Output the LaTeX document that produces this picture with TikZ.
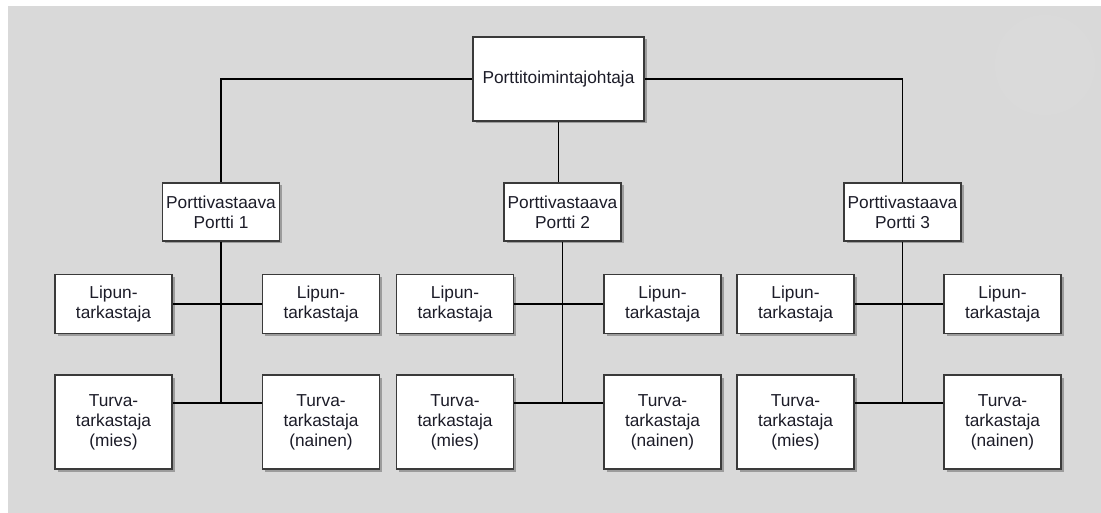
\documentclass[tikz,border=0pt]{standalone}
\usepackage{fontspec}
\setmainfont{Liberation Sans}
\usetikzlibrary{shadows,calc}
\definecolor{panel}{HTML}{D9D9D9}
\definecolor{boxline}{HTML}{3A3A3A}
\definecolor{txt}{HTML}{1C1C28}
\tikzset{
  orgbox/.style={draw=boxline, line width=1.5pt, fill=white, align=center,
    inner sep=0pt, text=txt, font=\fontsize{17.3}{20}\selectfont,
    drop shadow={shadow xshift=2.5pt, shadow yshift=-2.5pt, fill=black, opacity=0.28}},
  topbox/.style={orgbox, minimum width=171pt, minimum height=84pt},
  headbox/.style={orgbox, minimum width=117pt, minimum height=58pt},
  lipbox/.style={orgbox, minimum width=117pt, minimum height=59pt},
  turbox/.style={orgbox, minimum width=117pt, minimum height=94pt},
  link/.style={draw=black, line width=1.3pt}
}
\begin{document}
\begin{tikzpicture}[x=1pt,y=-1pt]
  % page and grey panel
  \fill[white] (0,0) rectangle (1101,513);
  \fill[panel] (8,6) rectangle (1101,513);
  \fill[white, opacity=0.04] (1045,65) circle (50);
  \useasboundingbox (0,0) rectangle (1101,513);

  % manager
  \node[topbox] (top) at (558.5,79) {Porttitoimintajohtaja};

  % gate supervisors
  \node[headbox] (p1) at (221,212) {Porttivastaava\\Portti 1};
  \node[headbox] (p2) at (562.5,212) {Porttivastaava\\Portti 2};
  \node[headbox] (p3) at (902.5,212) {Porttivastaava\\Portti 3};

  % ticket inspectors
  \node[lipbox] (l1a) at (113.5,304) {Lipun-\\tarkastaja};
  \node[lipbox] (l1b) at (321,304) {Lipun-\\tarkastaja};
  \node[lipbox] (l2a) at (455,304) {Lipun-\\tarkastaja};
  \node[lipbox] (l2b) at (662.5,304) {Lipun-\\tarkastaja};
  \node[lipbox] (l3a) at (795.5,304) {Lipun-\\tarkastaja};
  \node[lipbox] (l3b) at (1002.5,304) {Lipun-\\tarkastaja};

  % security inspectors
  \node[turbox] (t1a) at (113.5,422) {Turva-\\tarkastaja\\(mies)};
  \node[turbox] (t1b) at (321,422) {Turva-\\tarkastaja\\(nainen)};
  \node[turbox] (t2a) at (455,422) {Turva-\\tarkastaja\\(mies)};
  \node[turbox] (t2b) at (662.5,422) {Turva-\\tarkastaja\\(nainen)};
  \node[turbox] (t3a) at (795.5,422) {Turva-\\tarkastaja\\(mies)};
  \node[turbox] (t3b) at (1002.5,422) {Turva-\\tarkastaja\\(nainen)};

  % connectors
  \path[link] (top.west) -| (p1.north);
  \path[link] (top.east) -| (p3.north);
  \path[link] (top.south) -- (top.south |- p2.north);
  \foreach \g in {1,2,3}{
    \coordinate (ta\g) at ($(t\g a.north east)!0.3!(t\g a.south east)$);
    \coordinate (tb\g) at ($(t\g b.north west)!0.3!(t\g b.south west)$);
    \path[link] (p\g.south) -- (p\g.south |- ta\g);
    \path[link] (l\g a.east) -- (l\g b.west);
    \path[link] (ta\g) -- (tb\g);
  }
\end{tikzpicture}
\end{document}
